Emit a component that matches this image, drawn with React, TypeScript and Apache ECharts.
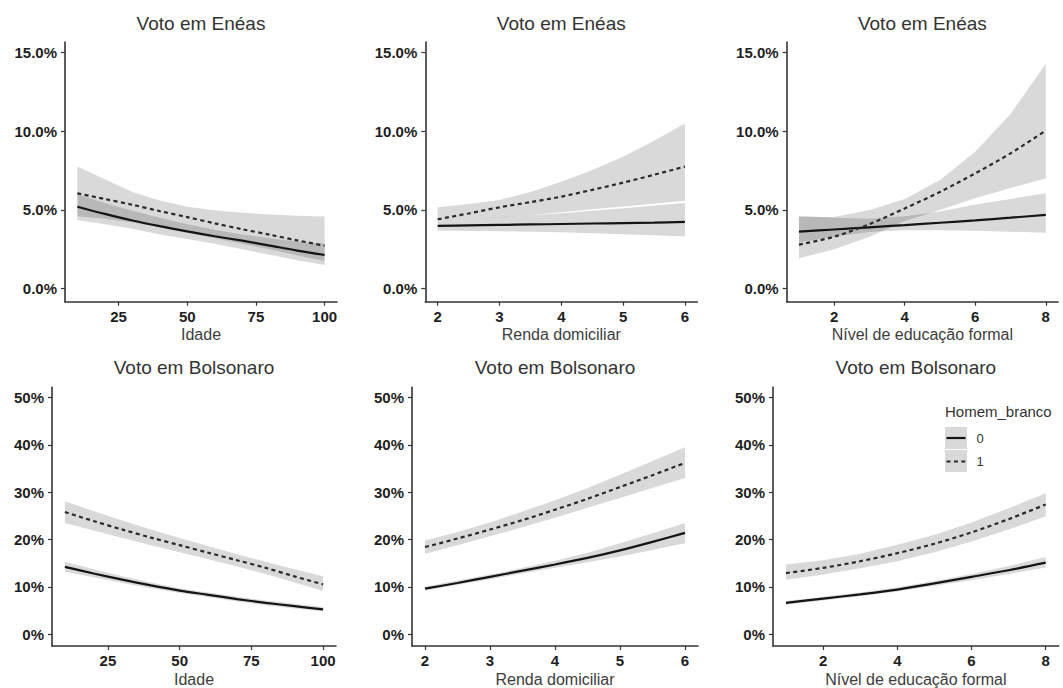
import React, { useEffect, useRef } from "react";
import * as echarts from "echarts";

// ---------- data ----------
const ageX = [10, 20, 30, 40, 50, 60, 70, 80, 90, 100];
const rendaX = [2, 2.5, 3, 3.5, 4, 4.5, 5, 5.5, 6];
const eduX = [1, 2, 3, 4, 5, 6, 7, 8];

const ageTicks = [25, 50, 75, 100];
const rendaTicks = [2, 3, 4, 5, 6];
const eduTicks = [2, 4, 6, 8];
const eneasTicks = [0, 5, 10, 15];
const bolsoTicks = [0, 10, 20, 30, 40, 50];

// Voto em Enéas ~ Idade
const eneasAge0 = [5.21, 4.75, 4.33, 3.97, 3.64, 3.33, 3.05, 2.74, 2.42, 2.14];
const eneasAge0Lo = [4.37, 4.1, 3.8, 3.45, 3.15, 2.85, 2.5, 2.15, 1.8, 1.51];
const eneasAge0Hi = [6.0, 5.45, 4.95, 4.5, 4.1, 3.75, 3.45, 3.2, 3.0, 2.85];
const eneasAge1 = [6.06, 5.7, 5.33, 4.93, 4.55, 4.15, 3.78, 3.43, 3.07, 2.73];
const eneasAge1Lo = [4.6, 4.45, 4.2, 3.9, 3.55, 3.2, 2.85, 2.5, 2.1, 1.75];
const eneasAge1Hi = [7.76, 6.95, 6.15, 5.6, 5.2, 4.98, 4.83, 4.71, 4.63, 4.58];

// Voto em Enéas ~ Renda domiciliar
const eneasRenda0 = [3.99, 4.02, 4.05, 4.08, 4.11, 4.14, 4.17, 4.2, 4.24];
const eneasRenda0Lo = [3.69, 3.67, 3.65, 3.62, 3.58, 3.52, 3.46, 3.39, 3.31];
const eneasRenda0Hi = [4.26, 4.4, 4.54, 4.66, 4.79, 4.95, 5.11, 5.28, 5.45];
const eneasRenda1 = [4.41, 4.78, 5.17, 5.5, 5.85, 6.28, 6.74, 7.24, 7.76];
const eneasRenda1Lo = [4.26, 4.4, 4.52, 4.66, 4.85, 5.05, 5.22, 5.4, 5.58];
const eneasRenda1Hi = [5.17, 5.38, 5.64, 6.15, 6.8, 7.55, 8.39, 9.4, 10.5];

// Voto em Enéas ~ Nível de educação formal
const eneasEdu0 = [3.62, 3.76, 3.9, 4.04, 4.19, 4.34, 4.51, 4.69];
const eneasEdu0Lo = [2.95, 3.3, 3.6, 3.72, 3.72, 3.68, 3.62, 3.56];
const eneasEdu0Hi = [4.64, 4.5, 4.45, 4.6, 4.9, 5.35, 5.7, 6.06];
const eneasEdu1 = [2.8, 3.3, 4.1, 5.1, 6.15, 7.33, 8.6, 10.05];
const eneasEdu1Lo = [1.93, 2.5, 3.3, 4.3, 5.0, 5.75, 6.4, 7.0];
const eneasEdu1Hi = [4.55, 4.55, 5.0, 5.7, 6.9, 8.7, 11.1, 14.3];

// Voto em Bolsonaro ~ Idade
const bolsoAge0 = [14.2, 12.8, 11.5, 10.3, 9.2, 8.3, 7.4, 6.6, 5.9, 5.2];
const bolsoAge0Lo = [13.2, 12.0, 10.8, 9.7, 8.7, 7.8, 6.9, 6.1, 5.4, 4.8];
const bolsoAge0Hi = [15.3, 13.7, 12.2, 10.9, 9.7, 8.8, 7.9, 7.1, 6.4, 5.7];
const bolsoAge1 = [25.8, 23.9, 22.1, 20.4, 18.8, 17.2, 15.6, 14.0, 12.2, 10.5];
const bolsoAge1Lo = [23.5, 21.9, 20.3, 18.8, 17.3, 15.8, 14.3, 12.7, 10.9, 9.1];
const bolsoAge1Hi = [28.1, 26.0, 24.0, 22.1, 20.3, 18.6, 16.9, 15.3, 13.7, 12.2];

// Voto em Bolsonaro ~ Renda domiciliar
const bolsoRenda0 = [9.6, 10.8, 12.1, 13.4, 14.7, 16.1, 17.7, 19.5, 21.4];
const bolsoRenda0Lo = [9.2, 10.4, 11.6, 12.8, 14.0, 15.2, 16.4, 17.8, 19.2];
const bolsoRenda0Hi = [10.0, 11.3, 12.6, 14.0, 15.5, 17.2, 19.2, 21.3, 23.5];
const bolsoRenda1 = [18.4, 20.2, 22.1, 24.1, 26.3, 28.6, 31.1, 33.6, 36.2];
const bolsoRenda1Lo = [17.0, 18.8, 20.7, 22.6, 24.6, 26.7, 28.8, 30.9, 33.0];
const bolsoRenda1Hi = [19.8, 21.6, 23.6, 25.9, 28.3, 30.9, 33.7, 36.6, 39.5];

// Voto em Bolsonaro ~ Nível de educação formal
const bolsoEdu0 = [6.6, 7.5, 8.4, 9.4, 10.7, 12.1, 13.5, 15.1];
const bolsoEdu0Lo = [6.2, 7.1, 8.0, 9.0, 10.2, 11.4, 12.7, 14.1];
const bolsoEdu0Hi = [7.0, 7.9, 8.8, 9.9, 11.2, 12.7, 14.4, 16.3];
const bolsoEdu1 = [12.9, 14.0, 15.4, 17.1, 19.1, 21.5, 24.3, 27.4];
const bolsoEdu1Lo = [11.5, 12.6, 13.9, 15.4, 17.3, 19.6, 22.1, 24.9];
const bolsoEdu1Hi = [14.7, 15.6, 17.0, 18.9, 21.0, 23.6, 26.6, 29.8];

const titleEneas = "Voto em Enéas";
const titleBolso = "Voto em Bolsonaro";
const xNames = ["Idade", "Renda domiciliar", "Nível de educação formal"];
const legendTitle = "Homem_branco";
const legendLabels = ["0", "1"];

// ---------- layout ----------
const FONT = "'Liberation Sans', Arial, Helvetica, sans-serif";

type Panel = {
  title: string;
  xName: string;
  x: number[];
  xTicks: number[];
  xMin: number;
  xMax: number;
  yTicks: number[];
  yMin: number;
  yMax: number;
  yFmt: (v: number) => string;
  grid: { left: number; top: number; width: number; height: number };
  g0: number[]; g0Lo: number[]; g0Hi: number[];
  g1: number[]; g1Lo: number[]; g1Hi: number[];
};

const fmtTop = (v: number) => v.toFixed(1) + "%";
const fmtBot = (v: number) => v.toFixed(0) + "%";

const TOP = { top: 42, height: 259.7, yMin: -0.83, yMax: 15.68 };
const BOT = { top: 387.3, height: 259.4, yMin: -2.53, yMax: 52.19 };

const panels: Panel[] = [
  {
    title: titleEneas, xName: xNames[0], x: ageX, xTicks: ageTicks, xMin: 5.5, xMax: 104.5,
    yTicks: eneasTicks, yMin: TOP.yMin, yMax: TOP.yMax, yFmt: fmtTop,
    grid: { left: 65, top: TOP.top, width: 272, height: TOP.height },
    g0: eneasAge0, g0Lo: eneasAge0Lo, g0Hi: eneasAge0Hi, g1: eneasAge1, g1Lo: eneasAge1Lo, g1Hi: eneasAge1Hi,
  },
  {
    title: titleEneas, xName: xNames[1], x: rendaX, xTicks: rendaTicks, xMin: 1.8, xMax: 6.2,
    yTicks: eneasTicks, yMin: TOP.yMin, yMax: TOP.yMax, yFmt: fmtTop,
    grid: { left: 425.3, top: TOP.top, width: 272, height: TOP.height },
    g0: eneasRenda0, g0Lo: eneasRenda0Lo, g0Hi: eneasRenda0Hi, g1: eneasRenda1, g1Lo: eneasRenda1Lo, g1Hi: eneasRenda1Hi,
  },
  {
    title: titleEneas, xName: xNames[2], x: eduX, xTicks: eduTicks, xMin: 0.65, xMax: 8.35,
    yTicks: eneasTicks, yMin: TOP.yMin, yMax: TOP.yMax, yFmt: fmtTop,
    grid: { left: 786.6, top: TOP.top, width: 271.5, height: TOP.height },
    g0: eneasEdu0, g0Lo: eneasEdu0Lo, g0Hi: eneasEdu0Hi, g1: eneasEdu1, g1Lo: eneasEdu1Lo, g1Hi: eneasEdu1Hi,
  },
  {
    title: titleBolso, xName: xNames[0], x: ageX, xTicks: ageTicks, xMin: 5.5, xMax: 104.5,
    yTicks: bolsoTicks, yMin: BOT.yMin, yMax: BOT.yMax, yFmt: fmtBot,
    grid: { left: 52, top: BOT.top, width: 284, height: BOT.height },
    g0: bolsoAge0, g0Lo: bolsoAge0Lo, g0Hi: bolsoAge0Hi, g1: bolsoAge1, g1Lo: bolsoAge1Lo, g1Hi: bolsoAge1Hi,
  },
  {
    title: titleBolso, xName: xNames[1], x: rendaX, xTicks: rendaTicks, xMin: 1.8, xMax: 6.2,
    yTicks: bolsoTicks, yMin: BOT.yMin, yMax: BOT.yMax, yFmt: fmtBot,
    grid: { left: 412, top: BOT.top, width: 286, height: BOT.height },
    g0: bolsoRenda0, g0Lo: bolsoRenda0Lo, g0Hi: bolsoRenda0Hi, g1: bolsoRenda1, g1Lo: bolsoRenda1Lo, g1Hi: bolsoRenda1Hi,
  },
  {
    title: titleBolso, xName: xNames[2], x: eduX, xTicks: eduTicks, xMin: 0.65, xMax: 8.35,
    yTicks: bolsoTicks, yMin: BOT.yMin, yMax: BOT.yMax, yFmt: fmtBot,
    grid: { left: 773, top: BOT.top, width: 285.7, height: BOT.height },
    g0: bolsoEdu0, g0Lo: bolsoEdu0Lo, g0Hi: bolsoEdu0Hi, g1: bolsoEdu1, g1Lo: bolsoEdu1Lo, g1Hi: bolsoEdu1Hi,
  },
];

const BAND = "rgba(0,0,0,0.15)";
const AXIS = "#333333";
const DASH = [4, 3.4];

function bandSeries(i: number, x: number[], lo: number[], hi: number[]) {
  return {
    type: "custom",
    xAxisIndex: i,
    yAxisIndex: i,
    silent: true,
    z: 1,
    data: x.map((xv, k) => [xv, lo[k], hi[k]]),
    renderItem: (params: any, api: any) => {
      if (params.dataIndex !== 0) return null;
      const upper = x.map((xv, k) => api.coord([xv, hi[k]]));
      const lower = x.map((xv, k) => api.coord([xv, lo[k]])).reverse();
      return {
        type: "polygon",
        shape: { points: upper.concat(lower) },
        style: { fill: BAND },
      };
    },
  };
}

function buildOption() {
  const grid: any[] = [];
  const xAxis: any[] = [];
  const yAxis: any[] = [];
  const series: any[] = [];
  const graphic: any[] = [];

  panels.forEach((p, i) => {
    grid.push({ ...p.grid, containLabel: false });
    xAxis.push({
      type: "value",
      gridIndex: i,
      min: p.xMin,
      max: p.xMax,
      name: p.xName,
      nameLocation: "middle",
      nameGap: 25,
      nameTextStyle: { fontSize: 16, color: "#3d3d3d", fontFamily: FONT },
      axisLine: { show: true, onZero: false, lineStyle: { color: AXIS, width: 1.6 } },
      axisTick: { show: true, length: 4, customValues: p.xTicks, lineStyle: { color: AXIS, width: 1.2 } },
      axisLabel: {
        customValues: p.xTicks,
        fontSize: 15,
        fontWeight: "bold",
        color: "#1e1e1e",
        fontFamily: FONT,
        margin: 7,
      },
      splitLine: { show: false },
    });
    yAxis.push({
      type: "value",
      gridIndex: i,
      min: p.yMin,
      max: p.yMax,
      axisLine: { show: true, onZero: false, lineStyle: { color: AXIS, width: 1.6 } },
      axisTick: { show: true, length: 4, customValues: p.yTicks, lineStyle: { color: AXIS, width: 1.2 } },
      axisLabel: {
        customValues: p.yTicks,
        formatter: (v: number) => p.yFmt(v),
        fontSize: 15,
        fontWeight: "bold",
        color: "#1e1e1e",
        fontFamily: FONT,
        margin: 8,
      },
      splitLine: { show: false },
    });

    series.push(bandSeries(i, p.x, p.g0Lo, p.g0Hi));
    series.push(bandSeries(i, p.x, p.g1Lo, p.g1Hi));

    series.push({
      type: "line",
      name: legendLabels[0],
      xAxisIndex: i,
      yAxisIndex: i,
      data: p.x.map((xv, k) => [xv, p.g0[k]]),
      symbol: "none",
      smooth: 0.3,
      lineStyle: { color: "#141414", width: 2.2, type: "solid" },
      z: 3,
    });
    series.push({
      type: "line",
      name: legendLabels[1],
      xAxisIndex: i,
      yAxisIndex: i,
      data: p.x.map((xv, k) => [xv, p.g1[k]]),
      symbol: "none",
      smooth: 0.3,
      lineStyle: { color: "#2a2a2a", width: 2.2, type: DASH },
      z: 3,
    });

    graphic.push({
      type: "text",
      x: p.grid.left + p.grid.width / 2,
      y: i < 3 ? 23.3 : 367.7,
      style: {
        text: p.title,
        fontSize: 19,
        fontFamily: FONT,
        fill: "#333333",
        align: "center",
        verticalAlign: "middle",
      },
    });
  });

  // legend (drawn as graphic, like ggplot's guide)
  graphic.push(
    {
      type: "text",
      x: 945,
      y: 411.7,
      style: { text: legendTitle, fontSize: 15, fontFamily: FONT, fill: "#333333", align: "left", verticalAlign: "middle" },
    },
    { type: "rect", shape: { x: 945, y: 427, width: 22, height: 22 }, style: { fill: "#d9d9d9" } },
    { type: "rect", shape: { x: 945, y: 450, width: 22, height: 22 }, style: { fill: "#d9d9d9" } },
    { type: "line", shape: { x1: 946.5, y1: 438, x2: 965.5, y2: 438 }, style: { stroke: "#141414", lineWidth: 2.2 } },
    {
      type: "line",
      shape: { x1: 946.5, y1: 461.5, x2: 965.5, y2: 461.5 },
      style: { stroke: "#2a2a2a", lineWidth: 2.2, lineDash: DASH },
    },
    {
      type: "text",
      x: 976.5,
      y: 438,
      style: { text: legendLabels[0], fontSize: 13, fontFamily: FONT, fill: "#333333", align: "left", verticalAlign: "middle" },
    },
    {
      type: "text",
      x: 976.5,
      y: 461.5,
      style: { text: legendLabels[1], fontSize: 13, fontFamily: FONT, fill: "#333333", align: "left", verticalAlign: "middle" },
    }
  );

  return {
    animation: false,
    backgroundColor: "#ffffff",
    grid,
    xAxis,
    yAxis,
    series,
    graphic,
  };
}

export default function App() {
  const ref = useRef<HTMLDivElement>(null);
  useEffect(() => {
    if (!ref.current) return;
    const chart = echarts.init(ref.current, undefined, { renderer: "svg" });
    chart.setOption(buildOption() as any);
    return () => chart.dispose();
  }, []);
  return (
    <div
      ref={ref}
      style={{ position: "absolute", left: 0, top: 0, width: 1063, height: 688, background: "#fff" }}
    />
  );
}
